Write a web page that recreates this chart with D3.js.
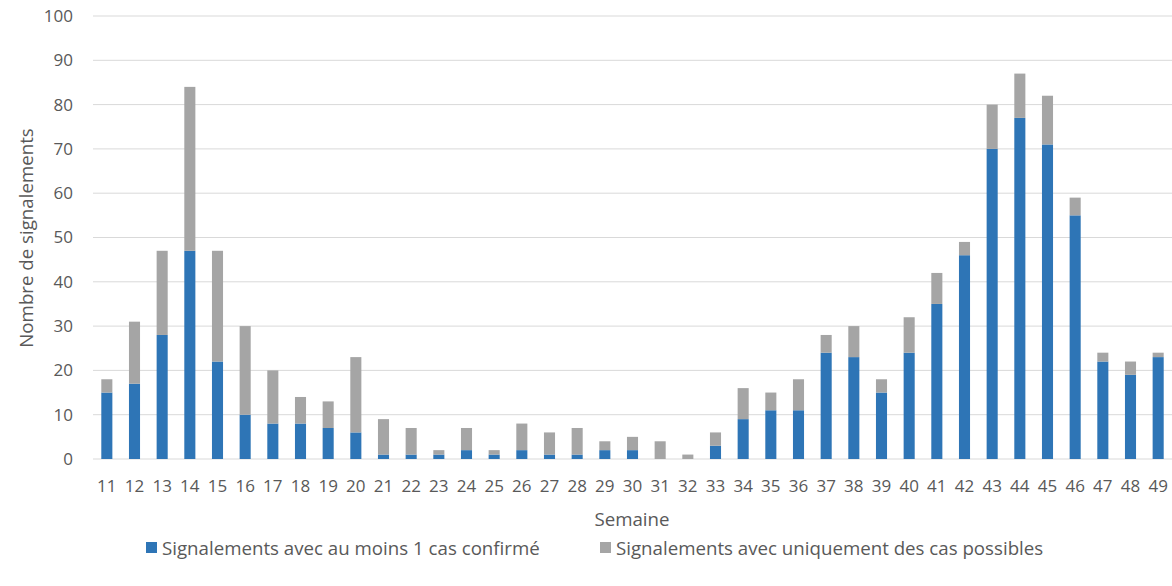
<!DOCTYPE html>
<html>
<head>
<meta charset="utf-8">
<title>Signalements par semaine</title>
<style>
  body { margin: 0; background: #fff; }
  text { font-family: "Open Sans", sans-serif; fill: #595959; font-size: 17px; }
  .words { font-size: 18.7px; }
</style>
</head>
<body>
<svg id="chart" width="1172" height="586"></svg>
<script src="https://d3js.org/d3.v7.min.js"></script>
<script>
// data
const weeks = ['11','12','13','14','15','16','17','18','19','20','21','22','23','24','25','26','27','28','29','30',
               '31','32','33','34','35','36','37','38','39','40','41','42','43','44','45','46','47','48','49'];
const confirmed = [15,17,28,47,22,10,8,8,7,6,1,1,1,2,1,2,1,1,2,2,
                   0,0,3,9,11,11,24,23,15,24,35,46,70,77,71,55,22,19,23];
const totals = [18,31,47,84,47,30,20,14,13,23,9,7,2,7,2,8,6,7,4,5,
                4,1,6,16,15,18,28,30,18,32,42,49,80,87,82,59,24,22,24];
const possible = totals.map((t, i) => t - confirmed[i]);
const yTicks = [0,10,20,30,40,50,60,70,80,90,100];
const seriesNames = ['Signalements avec au moins 1 cas confirmé', 'Signalements avec uniquement des cas possibles'];
const colors = ['#2E75B6', '#A5A5A5'];

const svg = d3.select('#chart');
const plotLeft = 93, plotRight = 1172, plotTop = 16, plotBottom = 459;

const x = d3.scaleBand().domain(weeks).range([plotLeft, plotRight]).paddingInner(0.6).paddingOuter(0.3);
const y = d3.scaleLinear().domain([0, 100]).range([plotBottom, plotTop]);

// gridlines
svg.append('g').selectAll('line').data(yTicks).join('line')
  .attr('x1', plotLeft).attr('x2', plotRight)
  .attr('y1', d => y(d)).attr('y2', d => y(d))
  .attr('stroke', '#D9D9D9').attr('stroke-width', 1);

// y labels
svg.append('g').selectAll('text').data(yTicks).join('text')
  .attr('x', 73).attr('y', d => y(d)).attr('dy', '0.35em')
  .attr('text-anchor', 'end')
  .text(d => d);

// stacked bars
const rows = weeks.map((w, i) => ({week: w, c: confirmed[i], p: possible[i]}));
const stacked = d3.stack().keys(['c', 'p'])(rows);

svg.append('g').selectAll('g').data(stacked).join('g')
  .attr('fill', (d, i) => colors[i])
  .selectAll('rect').data(d => d).join('rect')
  .attr('x', d => x(d.data.week))
  .attr('width', x.bandwidth())
  .attr('y', d => y(d[1]))
  .attr('height', d => y(d[0]) - y(d[1]));

// x labels
svg.append('g').selectAll('text').data(weeks).join('text')
  .attr('x', d => x(d) + x.bandwidth() / 2).attr('y', 492)
  .attr('text-anchor', 'middle')
  .text(d => d);

// axis titles
svg.append('text').attr('class', 'words').attr('x', 632).attr('y', 526).attr('text-anchor', 'middle')
  .text('Semaine');
svg.append('text').attr('class', 'words').attr('transform', 'translate(33,238) rotate(-90)').attr('text-anchor', 'middle')
  .text('Nombre de signalements');

// legend
const legendX = [146, 600];
const lg = svg.append('g').selectAll('g').data(seriesNames).join('g')
  .attr('transform', (d, i) => 'translate(' + legendX[i] + ',548)');
lg.append('rect').attr('x', 0).attr('y', -6).attr('width', 11).attr('height', 11)
  .attr('fill', (d, i) => colors[i]);
lg.append('text').attr('class', 'words').attr('x', 16).attr('y', 6.5)
  .text(d => d);
</script>
</body>
</html>
